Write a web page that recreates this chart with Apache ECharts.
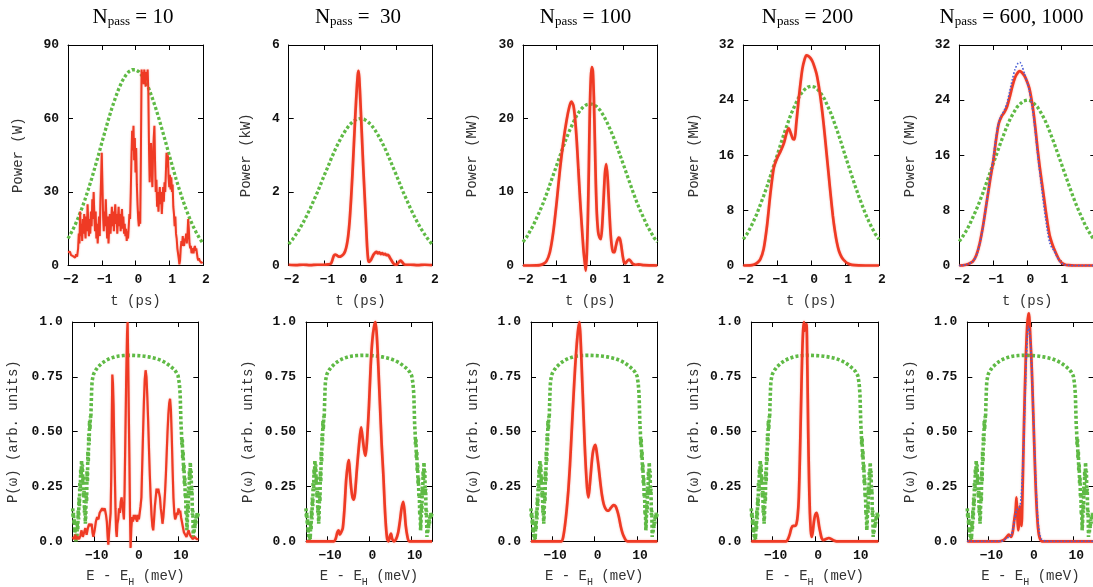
<!DOCTYPE html>
<html>
<head>
<meta charset="utf-8">
<script src="https://cdn.jsdelivr.net/npm/echarts@6/dist/echarts.min.js"></script>
<style>
  html, body { margin: 0; padding: 0; background: #fff; }
  #c { width: 1093px; height: 587px; }
</style>
</head>
<body>
<div id="c"></div>
<script>
// ---------- temporal profiles (t in ps) ----------
const tGrid = [-2.0,-1.9,-1.8,-1.7,-1.6,-1.5,-1.4,-1.3,-1.2,-1.1,-1.0,-0.9,-0.8,-0.7,-0.6,-0.5,-0.4,-0.3,-0.2,-0.1,
  0.0,0.1,0.2,0.3,0.4,0.5,0.6,0.7,0.8,0.9,1.0,1.1,1.2,1.3,1.4,1.5,1.6,1.7,1.8,1.9,2.0];

// seed pulse envelopes (green dotted), one per pass count
const seed10 = [11.0,13.5,16.2,19.4,22.9,26.8,31.0,35.4,40.2,45.0,50.0,54.9,59.7,64.2,68.3,72.0,75.1,77.4,79.1,79.9,
  79.9,79.1,77.4,75.1,72.0,68.3,64.2,59.7,54.9,50.0,45.0,40.2,35.4,31.0,26.8,22.9,19.4,16.2,13.5,11.0,9.0];
const seed30 = [0.58,0.70,0.84,0.99,1.16,1.35,1.55,1.77,1.99,2.23,2.47,2.70,2.94,3.16,3.36,3.54,3.70,3.83,3.92,3.98,
  4.00,3.98,3.92,3.83,3.70,3.54,3.36,3.16,2.94,2.70,2.47,2.23,1.99,1.77,1.55,1.35,1.16,0.99,0.84,0.70,0.58];
const seed100 = [3.2,3.8,4.6,5.4,6.4,7.4,8.5,9.7,11.0,12.3,13.6,14.9,16.2,17.4,18.5,19.5,20.4,21.1,21.6,21.9,
  22.0,21.9,21.6,21.1,20.4,19.5,18.5,17.4,16.2,14.9,13.6,12.3,11.0,9.7,8.5,7.4,6.4,5.4,4.6,3.8,3.2];
const seed200 = [3.8,4.5,5.4,6.4,7.5,8.8,10.1,11.5,13.0,14.5,16.0,17.6,19.1,20.5,21.9,23.0,24.1,24.9,25.5,25.9,
  26.0,25.9,25.5,24.9,24.1,23.0,21.9,20.5,19.1,17.6,16.0,14.5,13.0,11.5,10.1,8.8,7.5,6.4,5.4,4.5,3.8];
const seed600 = [3.5,4.2,5.0,5.9,7.0,8.1,9.3,10.6,12.0,13.4,14.8,16.2,17.6,18.9,20.2,21.3,22.2,23.0,23.5,23.9,
  24.0,23.9,23.5,23.0,22.2,21.3,20.2,18.9,17.6,16.2,14.8,13.4,12.0,10.6,9.3,8.1,7.0,5.9,5.0,4.2,3.5];

// amplified pulse power [t, P]
const pulse10 = [[-2.00,5.5],[-1.97,4.8],[-1.94,5.6],[-1.91,4.2],[-1.88,4.9],[-1.85,3.8],[-1.82,4.5],[-1.79,3.2],[-1.76,4.6],[-1.73,3.6],
  [-1.70,7],[-1.68,13],[-1.66,9],[-1.64,22],[-1.62,12],[-1.60,17],[-1.58,10],[-1.56,19],[-1.54,13],[-1.52,21],[-1.50,15],[-1.48,11],
  [-1.46,20],[-1.44,14],[-1.42,25],[-1.40,18],[-1.38,12],[-1.36,19],[-1.34,13],[-1.32,22],[-1.30,16],[-1.28,27],[-1.26,19],[-1.24,30],
  [-1.22,21],[-1.20,14],[-1.18,22],[-1.16,11],[-1.14,17],[-1.12,9],[-1.10,15],[-1.08,20],[-1.06,12],[-1.04,26],[-1.02,35],[-1.00,46],
  [-0.98,33],[-0.96,20],[-0.94,14],[-0.92,22],[-0.90,16],[-0.88,27],[-0.86,18],[-0.84,11],[-0.82,20],[-0.80,9],[-0.78,15],[-0.76,21],
  [-0.74,13],[-0.72,18],[-0.70,24],[-0.68,16],[-0.66,22],[-0.64,14],[-0.62,20],[-0.60,25],[-0.58,17],[-0.56,21],[-0.54,13],[-0.52,19],
  [-0.50,24],[-0.48,16],[-0.46,21],[-0.44,14],[-0.42,19],[-0.40,23],[-0.38,15],[-0.36,20],[-0.34,13],[-0.32,17],[-0.30,12],[-0.28,15],
  [-0.26,10],[-0.24,14],[-0.22,11],[-0.20,16],[-0.18,21],[-0.16,19],[-0.14,30],[-0.12,44],[-0.10,55],[-0.08,47],[-0.06,57],[-0.04,43],
  [-0.02,52],[0.00,38],[0.02,48],[0.04,33],[0.06,25],[0.08,19],[0.10,16],[0.12,22],[0.14,17],[0.16,45],[0.18,80],[0.20,76],[0.22,79],
  [0.24,74],[0.26,80],[0.28,77],[0.30,73],[0.32,79],[0.34,76],[0.36,80],[0.38,71],[0.40,48],[0.42,34],[0.44,44],[0.46,50],[0.48,38],
  [0.50,32],[0.52,45],[0.54,52],[0.56,57],[0.58,42],[0.60,30],[0.62,35],[0.64,24],[0.66,30],[0.68,22],[0.70,28],[0.72,32],[0.74,25],
  [0.76,30],[0.78,21],[0.80,27],[0.82,32],[0.84,26],[0.86,34],[0.88,30],[0.90,38],[0.92,46],[0.94,40],[0.96,45],[0.98,36],[1.00,32],
  [1.02,37],[1.04,31],[1.06,36],[1.08,30],[1.10,33],[1.12,24],[1.14,21],[1.16,16],[1.18,20],[1.20,13],[1.22,11],[1.24,7],[1.26,5],
  [1.28,3],[1.30,0.5],[1.32,2],[1.34,7],[1.36,10],[1.38,8],[1.40,12],[1.42,9],[1.44,8],[1.46,11],[1.48,10],[1.50,13],[1.52,9],[1.54,12],
  [1.56,19],[1.58,15],[1.60,9],[1.62,7],[1.64,8],[1.66,5],[1.68,7],[1.70,6],[1.72,5],[1.74,7],[1.76,8],[1.78,6],[1.80,7],[1.82,5],
  [1.84,3],[1.86,2],[1.88,3],[1.90,2],[1.92,1.5],[1.94,2],[1.96,1],[1.98,1.5],[2.00,1]];
const pulse30 = [[-2.0,0.02],[-1.8,0.01],[-1.6,0.02],[-1.4,0.01],[-1.2,0.02],[-1.0,0.02],[-0.9,0.03],[-0.82,0.05],[-0.78,0.15],
  [-0.74,0.27],[-0.70,0.3],[-0.66,0.28],[-0.62,0.25],[-0.58,0.24],[-0.54,0.25],[-0.50,0.28],[-0.46,0.32],[-0.42,0.4],[-0.38,0.55],
  [-0.34,0.8],[-0.30,1.2],[-0.26,1.8],[-0.22,2.5],[-0.18,3.3],[-0.14,4.1],[-0.10,4.8],[-0.07,5.2],[-0.05,5.3],[-0.03,5.1],[0.0,4.5],
  [0.04,3.6],[0.08,2.7],[0.12,1.9],[0.16,1.1],[0.19,0.5],[0.22,0.15],[0.25,0.1],[0.29,0.14],[0.33,0.22],[0.37,0.3],[0.41,0.35],
  [0.45,0.37],[0.49,0.33],[0.53,0.36],[0.57,0.31],[0.61,0.34],[0.65,0.3],[0.69,0.32],[0.73,0.28],[0.77,0.29],[0.81,0.24],[0.85,0.17],
  [0.89,0.1],[0.93,0.05],[0.97,0.03],[1.01,0.02],[1.05,0.06],[1.09,0.11],[1.13,0.13],[1.17,0.09],[1.21,0.04],[1.26,0.02],[1.4,0.02],
  [1.6,0.01],[1.8,0.02],[2.0,0.01]];
const pulse100 = [[-2,0],[-1.8,0],[-1.6,0.02],[-1.5,0.05],[-1.4,0.2],[-1.3,0.6],[-1.2,1.8],[-1.1,4.5],[-1.0,8.5],[-0.9,13],[-0.8,16.8],
  [-0.7,19.8],[-0.62,21.6],[-0.56,22.3],[-0.50,21.8],[-0.45,20],[-0.40,17],[-0.35,13],[-0.30,9],[-0.25,5.5],[-0.20,2.2],[-0.16,0.4],
  [-0.13,-0.7],[-0.10,1.5],[-0.07,6],[-0.04,13],[-0.01,21],[0.02,25.5],[0.05,27],[0.08,26.5],[0.11,23],[0.14,17],[0.17,11],[0.20,7],
  [0.24,4.5],[0.28,3.8],[0.32,3.6],[0.36,5.5],[0.40,9],[0.44,12.5],[0.48,13.8],[0.52,12],[0.56,8.5],[0.60,5],[0.64,2.8],[0.68,1.8],
  [0.72,1.8],[0.76,2.5],[0.80,3.3],[0.85,3.8],[0.89,3.6],[0.93,2.6],[0.97,1.3],[1.01,0.4],[1.05,0.3],[1.10,0.6],[1.16,0.8],[1.21,0.6],
  [1.26,0.25],[1.35,0.1],[1.45,0.15],[1.6,0.05],[1.8,0.02],[2,0]];
const pulse200 = [[-2,0],[-1.8,0.02],[-1.7,0.1],[-1.6,0.35],[-1.5,0.9],[-1.4,2.4],[-1.3,5.8],[-1.2,10.5],[-1.1,14.2],[-1.0,15.6],
  [-0.9,16.6],[-0.8,17.8],[-0.72,19.3],[-0.66,19.9],[-0.6,19.2],[-0.54,18.4],[-0.49,18.3],[-0.44,20.5],[-0.38,23.5],[-0.32,26.2],
  [-0.26,28.5],[-0.2,29.8],[-0.14,30.5],[-0.08,30.4],[-0.02,30.1],[0.04,29.6],[0.1,28.8],[0.16,27.8],[0.22,26.2],[0.28,24.2],
  [0.34,21.8],[0.4,19],[0.46,16],[0.52,13],[0.58,10],[0.64,7.2],[0.7,5],[0.76,3.3],[0.82,2.1],[0.9,1.2],[1.0,0.6],[1.1,0.25],
  [1.2,0.1],[1.4,0.02],[1.6,0],[2,0]];
const pulse600 = [[-2,0],[-1.9,0.02],[-1.8,0.1],[-1.7,0.3],[-1.6,0.6],[-1.5,1.5],[-1.4,3.2],[-1.3,5.8],[-1.2,9],[-1.1,12.2],[-1.0,15.2],
  [-0.92,18.2],[-0.84,20.6],[-0.76,21.6],[-0.68,22.2],[-0.6,23],[-0.52,24.4],[-0.44,26],[-0.36,27.3],[-0.28,28],[-0.22,28.2],
  [-0.16,28],[-0.08,27.5],[0,26.6],[0.06,25.7],[0.12,24.2],[0.18,22.3],[0.24,19.8],[0.3,17],[0.36,14.5],[0.42,12.3],[0.48,10.2],
  [0.54,8],[0.6,6],[0.66,4.3],[0.72,3.3],[0.78,2.5],[0.86,1.6],[0.94,0.8],[1.02,0.35],[1.1,0.15],[1.2,0.05],[1.4,0],[2,0]];
const pulse1000 = [[-2,0],[-1.8,0.1],[-1.6,0.6],[-1.5,1.4],[-1.4,3.1],[-1.3,5.7],[-1.2,9],[-1.1,12.4],[-1.0,15.6],[-0.92,18.6],
  [-0.84,20.8],[-0.76,21.8],[-0.68,22.5],[-0.6,23.5],[-0.52,25.2],[-0.44,27],[-0.36,28.5],[-0.28,29.3],[-0.22,29.5],[-0.16,29],
  [-0.08,27.8],[0,26.5],[0.06,25.4],[0.12,23.8],[0.18,21.8],[0.24,19.2],[0.3,16.4],[0.36,13.8],[0.42,11.4],[0.48,9],[0.54,6.8],
  [0.6,4.8],[0.66,3.3],[0.72,2.6],[0.78,2.2],[0.86,1.4],[0.94,0.7],[1.02,0.3],[1.1,0.1],[1.2,0.03],[1.4,0],[2,0]];

// ---------- spectra (E - E_H in meV) ----------
// seed spectrum (green dotted), shared by all panels
const specSeed = [[-15.0,0.15],[-14.9,0.11],[-14.8,0.13],[-14.7,0.08],[-14.6,0.1],[-14.5,0.04],[-14.4,0.06],[-14.3,0.01],[-14.2,0.0],
  [-14.1,0.03],[-14.0,0.01],[-13.9,0.08],[-13.8,0.05],[-13.7,0.14],[-13.6,0.1],[-13.5,0.2],[-13.4,0.16],[-13.3,0.27],[-13.2,0.23],
  [-13.1,0.33],[-13.0,0.29],[-12.9,0.37],[-12.8,0.32],[-12.7,0.35],[-12.6,0.27],[-12.5,0.3],[-12.4,0.2],[-12.3,0.23],[-12.2,0.13],
  [-12.1,0.16],[-12.0,0.08],[-11.9,0.12],[-11.8,0.22],[-11.7,0.18],[-11.6,0.32],[-11.5,0.27],[-11.4,0.41],[-11.3,0.36],[-11.2,0.49],
  [-11.1,0.44],[-11.0,0.55],[-10.9,0.51],[-10.8,0.57],[-10.7,0.56],[-10.6,0.63],[-10.5,0.69],[-10.4,0.73],[-10.2,0.75],[-10.0,0.765],
  [-9.5,0.782],[-9.0,0.795],[-8.0,0.813],[-7.0,0.826],[-6.0,0.835],[-5.0,0.841],[-4.0,0.845],[-3.0,0.847],[-2.0,0.848],[-1.0,0.848],
  [0.0,0.847],[1.0,0.846],[2.0,0.844],[3.0,0.841],[4.0,0.837],[5.0,0.832],[6.0,0.825],[7.0,0.815],[8.0,0.801],[9.0,0.785],[9.5,0.773],
  [10.0,0.755],[10.3,0.72],[10.5,0.67],[10.6,0.6],[10.7,0.53],[10.8,0.5],[10.9,0.44],[11.0,0.47],[11.1,0.38],[11.2,0.41],[11.3,0.32],
  [11.4,0.35],[11.5,0.26],[11.6,0.29],[11.7,0.2],[11.8,0.22],[11.9,0.12],[12.0,0.14],[12.1,0.05],[12.2,0.09],[12.3,0.17],[12.4,0.13],
  [12.5,0.25],[12.6,0.21],[12.7,0.32],[12.8,0.28],[12.9,0.36],[13.0,0.31],[13.1,0.32],[13.2,0.22],[13.3,0.24],[13.4,0.12],[13.5,0.14],
  [13.6,0.02],[13.7,0.05],[13.8,0.04],[13.9,0.08],[14.0,0.06],[14.1,0.1],[14.2,0.08],[14.3,0.11],[14.4,0.1],[14.5,0.13],[14.6,0.11],
  [14.8,0.13]];

// normalised output spectra [E, P]
const spec10 = [[-15,0.02],[-14.7,0.01],[-14.4,0.03],[-14.1,0.01],[-13.8,0.02],[-13.5,0.01],[-13.2,0.025],[-12.9,0.05],[-12.6,0.02],
  [-12.3,0.04],[-12.0,0.06],[-11.7,0.03],[-11.4,0.06],[-11.1,0.08],[-10.8,0.07],[-10.5,0.08],[-10.3,0.04],[-10.1,0.02],[-9.8,0.05],
  [-9.5,0.09],[-9.2,0.11],[-8.9,0.1],[-8.6,0.13],[-8.3,0.14],[-8.0,0.15],[-7.7,0.14],[-7.4,0.15],[-7.1,0.12],[-6.9,0.09],[-6.7,0.02],
  [-6.55,-0.015],[-6.4,0.03],[-6.2,0.08],[-6.0,0.13],[-5.85,0.3],[-5.7,0.6],[-5.6,0.76],[-5.45,0.72],[-5.3,0.62],[-5.15,0.45],[-5.0,0.3],
  [-4.85,0.15],[-4.7,0.05],[-4.55,0.02],[-4.4,0.08],[-4.2,0.1],[-4.0,0.15],[-3.8,0.13],[-3.6,0.18],[-3.4,0.2],[-3.2,0.16],[-3.0,0.13],
  [-2.85,0.1],[-2.7,0.22],[-2.5,0.48],[-2.3,0.75],[-2.1,0.95],[-1.97,1.0],[-1.85,0.85],[-1.7,0.6],[-1.55,0.38],[-1.4,0.12],[-1.26,-0.03],
  [-1.1,0.06],[-0.9,0.11],[-0.7,0.09],[-0.5,0.12],[-0.3,0.1],[-0.1,0.12],[0.1,0.1],[0.3,0.09],[0.5,0.12],[0.7,0.1],[0.9,0.13],[1.1,0.16],
  [1.3,0.2],[1.5,0.35],[1.7,0.5],[1.9,0.64],[2.1,0.74],[2.3,0.78],[2.5,0.75],[2.7,0.66],[2.9,0.55],[3.1,0.42],[3.3,0.3],[3.5,0.2],
  [3.7,0.12],[3.9,0.07],[4.1,0.05],[4.3,0.1],[4.5,0.16],[4.7,0.2],[4.9,0.24],[5.1,0.22],[5.3,0.24],[5.5,0.22],[5.7,0.2],[5.9,0.15],
  [6.1,0.12],[6.3,0.08],[6.5,0.11],[6.7,0.16],[6.9,0.22],[7.1,0.3],[7.3,0.4],[7.5,0.5],[7.7,0.58],[7.9,0.63],[8.1,0.65],[8.3,0.6],
  [8.5,0.48],[8.7,0.33],[8.9,0.2],[9.1,0.13],[9.3,0.1],[9.5,0.11],[9.7,0.13],[9.9,0.12],[10.1,0.15],[10.3,0.13],[10.5,0.14],[10.7,0.11],
  [10.9,0.09],[11.1,0.07],[11.4,0.04],[11.7,0.03],[12.0,0.02],[12.3,0.04],[12.5,0.05],[12.8,0.03],[13.1,0.02],[13.5,0.01],[14.0,0.02],
  [14.4,0.01],[14.8,0.01]];
const spec30 = [[-15,0],[-10,0],[-8.4,0],[-8.0,0.01],[-7.6,0.04],[-7.3,0.05],[-7.0,0.03],[-6.7,0.04],[-6.3,0.06],[-5.9,0.15],[-5.5,0.28],
  [-5.1,0.35],[-4.85,0.37],[-4.6,0.31],[-4.3,0.24],[-4.0,0.2],[-3.7,0.19],[-3.4,0.22],[-3.0,0.32],[-2.6,0.41],[-2.2,0.49],[-1.95,0.52],
  [-1.6,0.47],[-1.2,0.41],[-0.9,0.39],[-0.5,0.48],[-0.1,0.62],[0.3,0.8],[0.7,0.92],[1.1,0.98],[1.45,1.0],[1.8,0.92],[2.1,0.8],[2.5,0.62],
  [2.9,0.44],[3.3,0.3],[3.6,0.17],[3.9,0.07],[4.2,0.01],[4.5,0.0],[4.8,0.02],[5.1,0.035],[5.4,0.01],[5.8,0.0],[6.3,0.01],[6.8,0.04],
  [7.2,0.09],[7.6,0.15],[8.0,0.18],[8.3,0.14],[8.6,0.07],[9.0,0.02],[9.4,0],[14.8,0]];
const spec100 = [[-15,0],[-10,0],[-7.8,0],[-7.4,0.02],[-7.0,0.07],[-6.6,0.14],[-6.2,0.23],[-5.8,0.35],[-5.4,0.5],[-5.0,0.65],[-4.6,0.79],
  [-4.2,0.9],[-3.85,0.97],[-3.55,1.0],[-3.25,0.9],[-2.95,0.75],[-2.65,0.6],[-2.35,0.45],[-2.05,0.33],[-1.75,0.24],[-1.45,0.2],[-1.15,0.25],
  [-0.8,0.33],[-0.45,0.4],[-0.1,0.43],[0.2,0.44],[0.55,0.4],[0.95,0.34],[1.35,0.27],[1.75,0.21],[2.15,0.17],[2.55,0.15],[2.95,0.14],
  [3.35,0.14],[3.75,0.15],[4.15,0.16],[4.55,0.165],[4.95,0.16],[5.35,0.14],[5.75,0.11],[6.15,0.07],[6.55,0.04],[6.95,0.02],[7.35,0.005],
  [7.8,0],[14.8,0]];
const spec200 = [[-15,0],[-10,0],[-6.8,0],[-6.4,0.01],[-6.0,0.03],[-5.6,0.06],[-5.2,0.07],[-4.8,0.07],[-4.4,0.08],[-4.1,0.12],[-3.85,0.2],
  [-3.6,0.38],[-3.35,0.6],[-3.1,0.82],[-2.85,0.96],[-2.65,1.0],[-2.45,0.96],[-2.25,0.98],[-2.05,0.99],[-1.85,0.8],[-1.65,0.5],[-1.45,0.28],
  [-1.25,0.13],[-1.05,0.05],[-0.85,0.02],[-0.6,0.04],[-0.3,0.09],[0.0,0.12],[0.3,0.13],[0.6,0.11],[0.9,0.07],[1.2,0.04],[1.5,0.015],
  [1.9,0.005],[2.5,0.01],[3.2,0.015],[3.8,0.01],[4.5,0.002],[5,0],[14.8,0]];
const spec600 = [[-15,0],[-10,0],[-7.5,0],[-6.5,0.005],[-5.7,0.02],[-5.2,0.03],[-4.7,0.02],[-4.3,0.04],[-3.9,0.1],[-3.6,0.14],[-3.4,0.2],
  [-3.2,0.12],[-3.0,0.05],[-2.8,0.08],[-2.6,0.16],[-2.4,0.12],[-2.2,0.07],[-2.0,0.2],[-1.8,0.38],[-1.6,0.55],[-1.4,0.7],[-1.2,0.83],
  [-1.0,0.93],[-0.8,1.0],[-0.6,1.03],[-0.45,1.04],[-0.3,1.0],[-0.1,0.92],[0.1,0.84],[0.3,0.74],[0.5,0.62],[0.7,0.5],[0.9,0.38],[1.1,0.27],
  [1.3,0.18],[1.5,0.11],[1.7,0.06],[1.9,0.03],[2.2,0.01],[2.6,0],[14.8,0]];
const spec1000 = [[-15,0],[-10,0],[-7,0],[-6,0.01],[-5.2,0.02],[-4.6,0.03],[-4.2,0.06],[-3.8,0.1],[-3.4,0.14],[-3.0,0.15],[-2.6,0.16],
  [-2.3,0.2],[-2.0,0.3],[-1.7,0.45],[-1.4,0.64],[-1.1,0.82],[-0.8,0.94],[-0.55,0.98],[-0.3,0.96],[0.0,0.88],[0.3,0.74],[0.6,0.57],
  [0.9,0.4],[1.2,0.25],[1.5,0.14],[1.8,0.07],[2.1,0.03],[2.5,0.01],[3.0,0.005],[3.5,0],[14.8,0]];

// tick labels and titles
const passLabels = ['10', ' 30', '100', '200', '600, 1000'];
const powerUnits = ['W', 'kW', 'MW', 'MW', 'MW'];
const powerMax = [90, 6, 30, 32, 32];
const powerStep = [30, 2, 10, 8, 8];
const specTickLabels = ['0.0', '0.25', '0.50', '0.75', '1.0'];
const energyTicks = [-10, 0, 10];

// ---------- layout ----------
const topRow = { top: 45, height: 220.5, boxes: [[68, 135], [288.7, 143.3], [523, 134.3], [743.3, 135.7], [959.3, 136]],
  nameGaps: [43, 35, 44, 42, 42] };
const botRow = { top: 322, height: 219.3, boxes: [[72.7, 125.6], [306, 126], [531, 126.3], [751.3, 127], [967.3, 126.3]],
  nameGaps: [52, 51, 51, 50, 50] };
const titleCenters = [133, 358, 585.5, 807.5, 1011.5];

const RED = '#ef3a24', GREEN = '#5fba45', BLUE = '#4a5fd6';
const MONO = 'Liberation Mono';
const tickFont = { fontFamily: MONO, fontWeight: 'bold', fontSize: 13, color: '#111' };
const nameFont = { fontFamily: MONO, fontSize: 14, color: '#333' };
const minus = v => String(v).replace('-', '\u2212');

const grids = [], xAxes = [], yAxes = [], series = [], graphics = [];

function addPanel(row, i, xs, ys) {
  const [left, width] = row.boxes[i];
  // fixed plot boxes: the rightmost column runs past the canvas edge on purpose
  grids.push({ left, top: row.top, width, height: row.height, outerBoundsMode: 'none', containLabel: false });
  const g = grids.length - 1;
  const line = { onZero: false, lineStyle: { color: '#000', width: 1 } };
  const tick = (extra) => Object.assign({ inside: true, length: 5, lineStyle: { color: '#000', width: 1 } }, extra || {});
  const xBase = { type: 'value', gridIndex: g, min: xs.min, max: xs.max, splitLine: { show: false }, axisLine: line };
  if (xs.interval) xBase.interval = xs.interval;
  xAxes.push(Object.assign({}, xBase, {
    position: 'bottom',
    axisTick: tick(xs.custom ? { customValues: xs.custom } : null),
    axisLabel: Object.assign({}, tickFont, { margin: 8, padding: [0, 0, 0, 6], formatter: minus },
      xs.custom ? { customValues: xs.custom } : {}),
    name: xs.name, nameLocation: 'middle', nameGap: xs.nameGap,
    nameTextStyle: Object.assign({}, nameFont, xs.rich ? { rich: xs.rich } : {})
  }));
  xAxes.push(Object.assign({}, xBase, {
    position: 'top',
    axisTick: tick(xs.custom ? { customValues: xs.custom } : null),
    axisLabel: { show: false }
  }));
  const yBase = { type: 'value', gridIndex: g, min: 0, max: ys.max, interval: ys.interval,
    splitLine: { show: false }, axisLine: line, axisTick: tick() };
  yAxes.push(Object.assign({}, yBase, {
    position: 'left',
    axisLabel: Object.assign({}, tickFont, { margin: ys.margin, formatter: ys.formatter }),
    name: ys.name, nameLocation: 'middle', nameRotate: 90, nameGap: row.nameGaps[i],
    nameTextStyle: nameFont
  }));
  yAxes.push(Object.assign({}, yBase, { position: 'right', axisLabel: { show: false } }));
  return g;
}

function lineSeries(g, data, style, z, smooth) {
  return { type: 'line', xAxisIndex: 2 * g, yAxisIndex: 2 * g, data, showSymbol: false, symbol: 'none',
    clip: false, smooth: smooth || false, z, silent: true, lineStyle: style };
}

const seeds = [seed10, seed30, seed100, seed200, seed600];
const pulses = [pulse10, pulse30, pulse100, pulse200, pulse600];
const spectra = [spec10, spec30, spec100, spec200, spec600];

const greenTop = { color: GREEN, width: 3.3, type: [3, 2.2] };
const greenBot = { color: GREEN, width: 3.6, type: [3, 2.2] };
const blueDot = { color: BLUE, width: 1.6, type: [1.6, 1.8] };
const redLine = w => ({ color: RED, width: w, shadowBlur: 2, shadowColor: 'rgba(240,70,50,0.45)' });

const subRich = {
  a: { fontFamily: MONO, fontSize: 14, lineHeight: 16, color: '#333' },
  b: { fontFamily: MONO, fontSize: 10, lineHeight: 12, padding: [12, 0, 0, 0], color: '#333' }
};

for (let i = 0; i < 5; i++) {
  // temporal panel
  const gt = addPanel(topRow, i,
    { min: -2, max: 2, interval: 1, name: 't (ps)', nameGap: 29 },
    { max: powerMax[i], interval: powerStep[i], margin: 9, name: 'Power (' + powerUnits[i] + ')' });
  series.push(lineSeries(gt, tGrid.map((t, k) => [t, seeds[i][k]]), greenTop, 2));
  series.push(lineSeries(gt, pulses[i], redLine(i === 0 ? 2 : 2.7), 3, i === 0 ? false : 0.25));
  if (i === 4) series.push(lineSeries(gt, pulse1000, blueDot, 4, 0.25));

  // spectral panel
  const gb = addPanel(botRow, i,
    { min: -15, max: 14.8, custom: energyTicks, name: '{a|E - E}{b|H}{a| (meV)}', nameGap: 27, rich: subRich },
    { max: 1, interval: 0.25, margin: 10, name: 'P(\u03c9) (arb. units)',
      formatter: v => specTickLabels[Math.round(v * 4)] });
  series.push(lineSeries(gb, specSeed, greenBot, 2));
  series.push(lineSeries(gb, spectra[i], redLine(i === 0 ? 2.2 : 2.7), 3, i === 0 ? false : 0.25));
  if (i === 4) series.push(lineSeries(gb, spec1000, blueDot, 4, 0.25));

  // panel title: N_pass = ...
  graphics.push({
    type: 'text', x: titleCenters[i], y: 5, silent: true,
    style: {
      text: '{n|N}{s|pass}{n| = ' + passLabels[i] + '}',
      align: 'center', verticalAlign: 'top',
      rich: {
        n: { fontFamily: 'Liberation Serif', fontSize: 21, lineHeight: 24, fill: '#000' },
        s: { fontFamily: 'Liberation Serif', fontSize: 13, lineHeight: 14, padding: [10, 0, 0, 0], fill: '#000' }
      }
    }
  });
}

const chart = echarts.init(document.getElementById('c'), null, { renderer: 'canvas' });
chart.setOption({
  animation: false,
  backgroundColor: '#fff',
  grid: grids,
  xAxis: xAxes,
  yAxis: yAxes,
  series,
  graphic: graphics
});
</script>
</body>
</html>
